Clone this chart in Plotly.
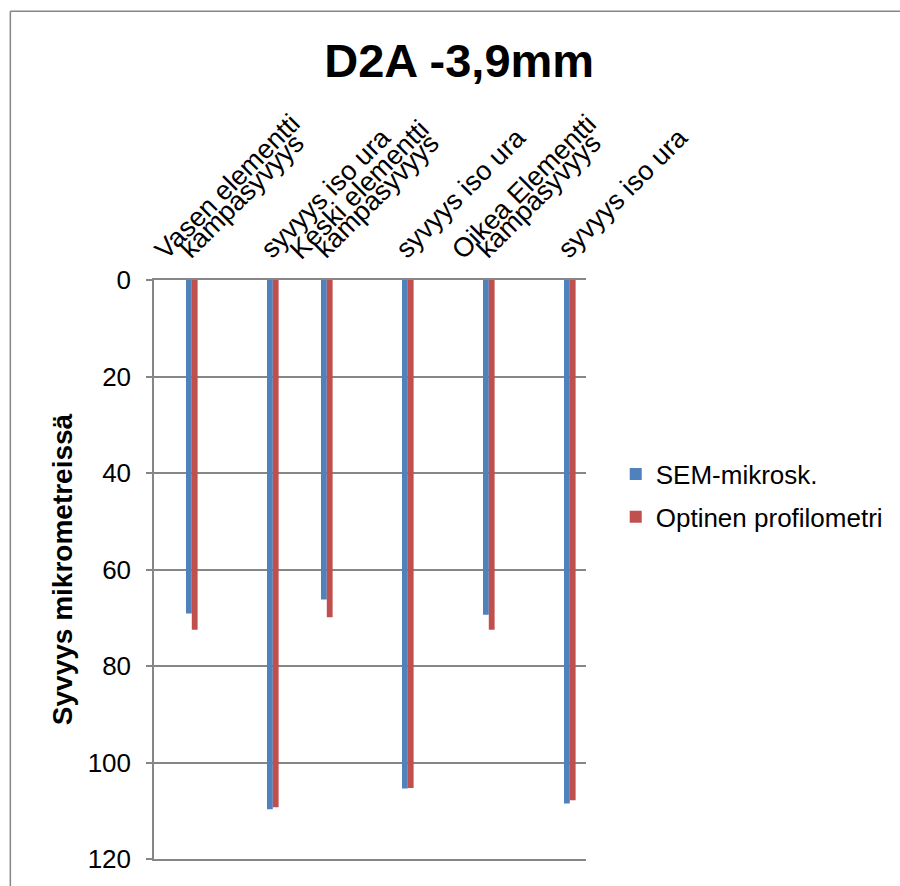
import plotly.graph_objects as go

# Measured depths (micrometres) at each location, two measuring methods
label_top = ["Vasen elementti", "", "Keski elementti", "", "Oikea Elementti", ""]
label_bottom = ["kampasyvyys", "syvyys iso ura", "kampasyvyys",
                "syvyys iso ura", "kampasyvyys", "syvyys iso ura"]
# row of each measurement in the 16-row source range (blank rows in between)
rows = [1, 4, 6, 9, 12, 15]
sem_depth = [69.1, 109.7, 66.2, 105.4, 69.4, 108.5]
optical_depth = [72.5, 109.3, 69.9, 105.3, 72.5, 107.8]
y_ticks = [0, 20, 40, 60, 80, 100, 120]

FONT = "Liberation Sans, Arial, sans-serif"
GRID = "#868686"
W, H = 900, 886
L, R, T, B = 154, 310, 280, 22
X_RANGE = [-0.5, 15.5]

fig = go.Figure()
fig.add_trace(go.Bar(
    x=rows, y=sem_depth, name="SEM-mikrosk.",
    width=0.215, offset=-0.315, legendgroup="a",
    marker=dict(color="#4F81BD", line=dict(width=0)),
))
# second series sits on the overlaid top axis that carries the first label lines
fig.add_trace(go.Bar(
    x=rows, y=optical_depth, name="Optinen profilometri", xaxis="x2",
    width=0.215, offset=-0.10, legendgroup="b",
    marker=dict(color="#C0504D", line=dict(width=0)),
))

pw, ph = W - L - R, H - T - B


def px_x(p):
    return (p - L) / pw


def px_y(p):
    return (H - B - p) / ph


cat_font = dict(family=FONT, size=27, color="black")
frame = dict(color=GRID, width=1.5)

fig.update_layout(
    width=W, height=H,
    margin=dict(l=L, r=R, t=T, b=B),
    paper_bgcolor="white", plot_bgcolor="white",
    barmode="overlay",
    font=dict(family=FONT, size=26, color="black"),
    title=dict(
        text="<b>D2A -3,9mm</b>",
        font=dict(family=FONT, size=47, color="black"),
        x=px_x(462), xref="paper", xanchor="center",
        y=1 - 61 / H, yref="container", yanchor="middle",
    ),
    xaxis=dict(
        range=X_RANGE, side="top",
        tickmode="array", tickvals=rows, ticktext=label_bottom,
        tickangle=-45, ticks="", showgrid=False, zeroline=False,
        showline=True, mirror=True, linecolor=GRID, linewidth=1.5,
        tickfont=cat_font,
        ticklabelshift=-13, ticklabelstandoff=4,
    ),
    xaxis2=dict(
        range=X_RANGE, side="top", overlaying="x",
        tickmode="array", tickvals=rows, ticktext=label_top,
        tickangle=-45, ticks="", showgrid=False, zeroline=False,
        showline=False, tickfont=cat_font,
        ticklabelshift=-38, ticklabelstandoff=9,
    ),
    yaxis=dict(
        range=[120, 0], tickmode="array", tickvals=y_ticks,
        showgrid=True, gridcolor=GRID, gridwidth=1.5, zeroline=False,
        showline=True, linecolor=GRID, linewidth=1.5,
        ticks="outside", ticklen=6, tickcolor=GRID, tickwidth=1.5,
        ticklabelstandoff=10,
        tickfont=dict(family=FONT, size=26, color="black"),
        title=dict(text="<b>Syvyys mikrometreissä</b>",
                   font=dict(family=FONT, size=28, color="black"),
                   standoff=7),
    ),
    legend=dict(
        x=px_x(620), y=px_y(452), xanchor="left", yanchor="top",
        font=dict(family=FONT, size=26, color="black"),
        bgcolor="rgba(0,0,0,0)", tracegroupgap=6,
        traceorder="grouped",
    ),
    # chart frame: top and left edges (the rest falls outside the page)
    shapes=[
        dict(type="line", xref="paper", yref="paper",
             x0=px_x(9), x1=px_x(960), y0=px_y(9), y1=px_y(9),
             line=frame, layer="below"),
        dict(type="line", xref="paper", yref="paper",
             x0=px_x(9), x1=px_x(9), y0=px_y(9), y1=px_y(960),
             line=frame, layer="below"),
    ],
)

fig.write_html(
    "out.html",
    post_script="document.documentElement.style.overflow='hidden';"
                "document.body.style.overflow='hidden';",
)
